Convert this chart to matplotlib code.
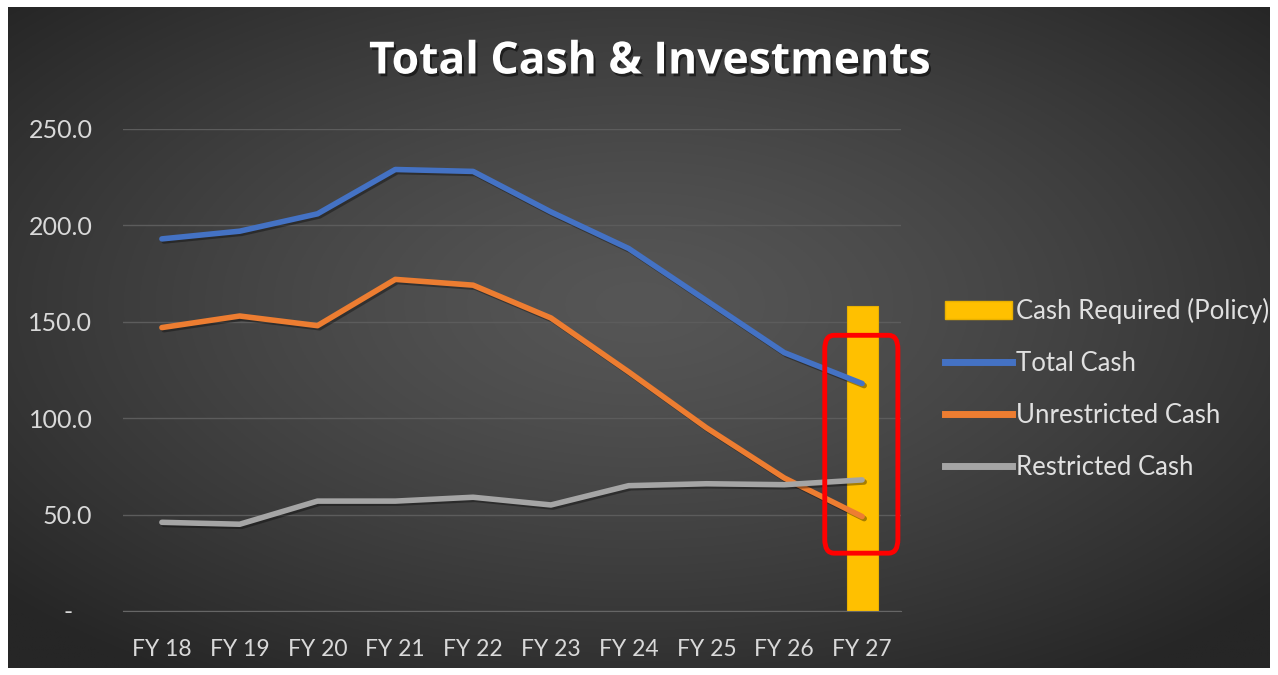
import numpy as np
import matplotlib
matplotlib.use("Agg")
import matplotlib.pyplot as plt
from matplotlib.patches import FancyBboxPatch
import matplotlib.patheffects as pe
from matplotlib.lines import Line2D
from matplotlib.patches import Patch

years = ["FY 18", "FY 19", "FY 20", "FY 21", "FY 22", "FY 23", "FY 24", "FY 25", "FY 26", "FY 27"]
total_cash = [193, 197, 206, 229, 228, 207, 188, 161, 134, 118]
unrestricted_cash = [147, 153, 148, 172, 169, 152, 124, 95, 69, 49]
restricted_cash = [46, 45, 57, 57, 59, 55, 65, 66, 65.5, 68]
cash_required = [np.nan] * 9 + [158]
yticks = [0, 50, 100, 150, 200, 250]
ytick_labels = ["-   ", "50.0", "100.0", "150.0", "200.0", "250.0"]

W, H = 1278, 675
fig = plt.figure(figsize=(W / 100, H / 100), dpi=100)
fig.patch.set_facecolor("white")

# gradient background panel
bg = fig.add_axes([8 / W, 7 / H, (1270 - 8) / W, (668 - 7) / H])
bg.set_axis_off()
gx = np.linspace(-1, 1, 640)
gy = np.linspace(-1, 1, 340)
X, Y = np.meshgrid(gx, gy)
R = np.sqrt((X * 1.0) ** 2 + ((Y - 0.1) * 1.0) ** 2)
R = np.clip(R / 1.35, 0, 1)
light, dark = 0x56 / 255, 0x26 / 255
img = light + (dark - light) * R ** 1.3
bg.imshow(np.dstack([img, img, img]), aspect="auto", extent=[0, 1, 0, 1], origin="lower")
bg.set_xlim(0, 1)
bg.set_ylim(0, 1)

ax = fig.add_axes([123 / W, 1 - 611 / H, (901 - 123) / W, (611 - 129) / H])
ax.set_facecolor("none")
x = np.arange(len(years))

shadow = [pe.SimpleLineShadow(offset=(1.5, -1.5), shadow_color="black", alpha=0.35), pe.Normal()]

ax.bar(x, cash_required, width=0.4, color="#FFC000", edgecolor="#E8B000", lw=0.8, zorder=2,
       label="Cash Required (Policy)")
ax.plot(x, total_cash, color="#4472C4", lw=4, solid_capstyle="round", zorder=3, path_effects=shadow, label="Total Cash")
ax.plot(x, unrestricted_cash, color="#ED7D31", lw=4, solid_capstyle="round", zorder=3, path_effects=shadow, label="Unrestricted Cash")
ax.plot(x, restricted_cash, color="#A5A5A5", lw=4, solid_capstyle="round", zorder=3, path_effects=shadow, label="Restricted Cash")

ax.set_xlim(-0.5, len(years) - 0.5)
ax.set_ylim(0, 250)
ax.set_yticks(yticks)
ax.set_yticklabels(ytick_labels)
ax.set_xticks(x)
ax.set_xticklabels(years)
ax.grid(axis="y", color="#5c5c5c", lw=1, zorder=0)
ax.set_axisbelow(True)
for s in ["top", "right", "left"]:
    ax.spines[s].set_visible(False)
ax.spines["bottom"].set_color("#666666")
ax.tick_params(axis="both", length=0, colors="#d9d9d9")
ax.tick_params(axis="y", pad=22, labelsize=18)
ax.tick_params(axis="x", pad=20, labelsize=16.5)
for lab in ax.get_xticklabels() + ax.get_yticklabels():
    lab.set_fontfamily("Lato")
for lab in ax.get_yticklabels():
    lab.set_horizontalalignment("right")

# red highlight box
box = FancyBboxPatch((8.52, 30), 0.94, 113, boxstyle="round,pad=0,rounding_size=0.12",
                     mutation_aspect=60, fill=False, edgecolor="#FF0000", lw=3.5, zorder=5,
                     transform=ax.transData, clip_on=False)
ax.add_patch(box)

fig.text(650 / W, 1 - 62 / H, "Total Cash & Investments", ha="center", va="center",
         fontsize=32, fontweight="bold", color="white", family="Open Sans",
         path_effects=[pe.withSimplePatchShadow(offset=(1.5, -2), shadow_rgbFace="black", alpha=0.5)])

handles = [Patch(facecolor="#FFC000", edgecolor="#E8B000"),
           Line2D([0], [0], color="#4472C4", lw=5),
           Line2D([0], [0], color="#ED7D31", lw=5),
           Line2D([0], [0], color="#A5A5A5", lw=5)]
labels = ["Cash Required (Policy)", "Total Cash", "Unrestricted Cash", "Restricted Cash"]
leg = fig.legend(handles, labels, loc="upper left", bbox_to_anchor=(945 / W, 1 - 298 / H),
                 frameon=False, labelcolor="#e0e0e0", handlelength=2.6,
                 handletextpad=0.15, labelspacing=1.05, borderpad=0, borderaxespad=0,
                 prop={"family": "Lato", "size": 18.5})

fig.savefig("out.png", dpi=100, facecolor=fig.get_facecolor())
